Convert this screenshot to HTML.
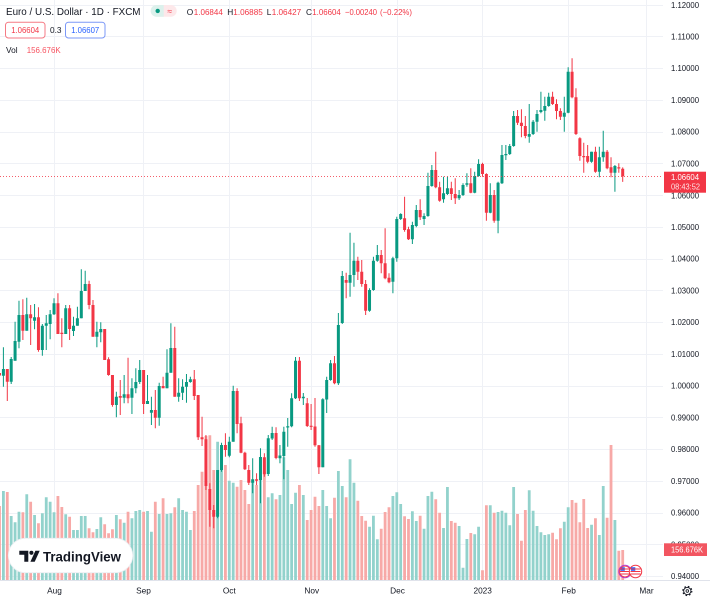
<!DOCTYPE html>
<html><head><meta charset="utf-8"><style>html,body{margin:0;padding:0;background:#fff;}svg{display:block;font-family:"Liberation Sans",sans-serif;}</style></head>
<body>
<svg width="710" height="600" viewBox="0 0 710 600" xmlns="http://www.w3.org/2000/svg">
<rect width="710" height="600" fill="#fff"/>
<g stroke="#eff1f6" stroke-width="1">
<path d="M0 5.5H663M0 36.5H663M0 68.5H663M0 100.5H663M0 132.5H663M0 163.5H663M0 195.5H663M0 227.5H663M0 259.5H663M0 290.5H663M0 322.5H663M0 354.5H663M0 386.5H663M0 417.5H663M0 449.5H663M0 481.5H663M0 513.5H663M0 544.5H663M0 576.5H663"/>
<path d="M54.5 0V580M143.5 0V580M229.5 0V580M311.5 0V580M397.5 0V580M482.5 0V580M568.5 0V580M646.5 0V580"/>
</g>
<g transform="translate(3.4 0) scale(3.895 1)" fill="none">
<path stroke="#92d2cc" stroke-width="2.8" vector-effect="non-scaling-stroke" d="M0 491V580.5M2 516V580.5M3 522.3V580.5M4 511.7V580.5M6 494.3V580.5M8 515V580.5M10 513.3V580.5M11 497.3V580.5M12 501.7V580.5M13 512.3V580.5M16 514.3V580.5M18 530V580.5M19 530V580.5M20 516V580.5M21 516V580.5M24 529V580.5M25 517.3V580.5M29 515V580.5M31 522.7V580.5M33 518.3V580.5M34 511V580.5M35 510V580.5M37 511V580.5M38 531.7V580.5M40 514V580.5M42 514V580.5M43 513.3V580.5M45 498.3V580.5M46 510V580.5M47 511.7V580.5M48 530V580.5M55 441.7V580.5M56 445V580.5M58 480.7V580.5M59 482.7V580.5M64 481.7V580.5M66 480V580.5M68 497.3V580.5M69 493.3V580.5M71 495V580.5M72 457.3V580.5M73 470V580.5M74 504V580.5M75 492.7V580.5M77 495V580.5M82 490V580.5M83 506V580.5M84 518.3V580.5M86 471V580.5M87 486V580.5M89 459.3V580.5M90 482.7V580.5M94 526.7V580.5M95 515.7V580.5M96 539.3V580.5M100 496V580.5M101 492.3V580.5M102 504V580.5M105 511.3V580.5M106 521V580.5M108 528.7V580.5M109 496V580.5M110 491.7V580.5M113 528V580.5M114 487V580.5M117 526V580.5M118 567.7V580.5M119 539V580.5M121 534.3V580.5M122 526.7V580.5M125 505.3V580.5M127 512V580.5M128 510.7V580.5M129 512.7V580.5M130 525.3V580.5M131 487V580.5M135 490.3V580.5M136 510.7V580.5M137 526V580.5M138 532.3V580.5M139 535V580.5M140 534.3V580.5M144 521.7V580.5M145 507.3V580.5M151 524.7V580.5M153 535V580.5M154 486V580.5M157 520V580.5"/>
<path stroke="#f7a9a7" stroke-width="2.8" vector-effect="non-scaling-stroke" d="M-1 506V580.5M1 492V580.5M5 512.3V580.5M7 501.7V580.5M9 523.3V580.5M14 496V580.5M15 507V580.5M17 516.7V580.5M22 528.3V580.5M23 532.3V580.5M26 524.3V580.5M27 533.3V580.5M28 529.3V580.5M30 519.3V580.5M32 511.7V580.5M36 511.7V580.5M39 501.7V580.5M41 498.3V580.5M44 507.3V580.5M49 511V580.5M50 485V580.5M51 471.7V580.5M52 436V580.5M53 435.3V580.5M54 470V580.5M57 465V580.5M60 486.7V580.5M61 480V580.5M62 490V580.5M63 504V580.5M65 485V580.5M67 471.7V580.5M70 499.3V580.5M76 485V580.5M78 520V580.5M79 510V580.5M80 496.7V580.5M81 506V580.5M85 497.7V580.5M88 497.3V580.5M91 500.7V580.5M92 516V580.5M93 520.7V580.5M97 528.7V580.5M98 512V580.5M99 507.3V580.5M103 516.3V580.5M104 519V580.5M107 515.7V580.5M111 499.3V580.5M112 512.7V580.5M115 521V580.5M116 522.7V580.5M120 533V580.5M123 570.3V580.5M124 505.3V580.5M126 512.7V580.5M132 514V580.5M133 540.7V580.5M134 510V580.5M141 532.7V580.5M142 539.3V580.5M143 528.3V580.5M146 500V580.5M147 502.7V580.5M148 522.3V580.5M149 499V580.5M150 528V580.5M152 518.3V580.5M155 517.7V580.5M156 445V580.5M158 550.7V580.5M159 550V580.5"/>
<path stroke="#089981" stroke-width="1" vector-effect="non-scaling-stroke" d="M0 347.3V386.7M2 357V384M3 321.7V360.7M4 300.7V348.3M6 297.7V330.7M8 304V329.3M10 324V355.7M11 315V350M12 310V339.3M13 298.3V315M16 305V334M18 316.7V336M19 306.7V325.7M20 269.3V318.3M21 270.7V291M24 321.7V347.3M25 322.3V342.3M29 391.7V417.3M31 375V403.3M33 378.3V414M34 368.3V393.3M35 360V384M37 375V404M38 396.7V425M40 382.7V425.7M42 349.3V388.3M43 323.3V372.7M45 378.3V401.7M46 379.3V400M47 374V402.7M48 376.7V382.7M55 470V518.3M56 442.7V471.7M58 436.7V457.3M59 385.7V441.7M64 458.3V493.3M66 448.3V503.3M68 435V476M69 426.7V440M71 445V463.3M72 426.7V479.3M73 418V446.7M74 393.3V427.3M75 357V399M77 393V405M82 398.3V467.3M83 376.7V413M84 360V380.7M86 313V385M87 271V324M89 232.7V296.7M90 242.7V286.7M94 288.3V311.7M95 256.7V290.7M96 245V261.7M100 256.7V293.3M101 216.7V261.7M102 213.3V220M105 221.7V244M106 205V227.3M108 213.3V225M109 172.7V216.7M110 165V186.7M113 176.7V202.7M114 176.7V195M117 190V200M118 183.3V196M119 173.3V186.7M121 171.7V193.3M122 159.3V176.7M125 183.3V213.3M127 181.7V233.3M128 145V184M129 145V160M130 144V155M131 111V146.7M135 104V142.7M136 120V135M137 110V131.7M138 91.7V113.3M139 96.7V120.7M140 92.7V106.7M144 96.7V131.7M145 67.3V113.3M151 151.7V162.7M153 146.7V177.3M154 130.7V161.7M157 165V191.7"/>
<path stroke="#089981" stroke-width="3" vector-effect="non-scaling-stroke" d="M0 369V375.7M2 359V381.7M3 341V360.7M4 315V341.7M6 314.3V330.7M8 317.3V320.7M10 325.7V350M11 323.3V325.7M12 314.3V324M13 303.3V314.3M16 308.3V334M18 325.7V331M19 318.3V325.7M20 291V318.3M21 284V291M24 331.7V336.7M25 329V332.3M29 396.7V405M31 394.3V397.7M33 388.3V397.7M34 382V388.3M35 370V382M37 401V404M38 410V412.7M40 386V417.7M42 372.7V388.3M43 348V372.7M45 392.7V396.7M46 386.7V392.7M47 382V386.7M48 379.3V382M55 470V516.7M56 445V470M58 441.7V455.7M59 391V441.7M64 479.3V482.7M66 457V480M68 438.3V474M69 433V438.5M71 455.5V458.3M72 431.7V456M73 426.3V427.5M74 398.3V426.3M75 360.7V398.3M77 396.7V398.3M82 399.3V467.3M83 380V399.5M84 363.3V380M86 325V383.3M87 276V323M89 275V282.7M90 260.7V275M94 290V310.7M95 260.7V290M96 255V260.7M100 258.3V281.7M101 219V258.3M102 214V219M105 225V239.3M106 210V226M108 216V219M109 186V216M110 170V186M113 193.3V199.3M114 188.3V194M117 195V198.3M118 185V195M119 183.3V184.7M121 176V192.7M122 164V176M125 195V212.7M127 182.7V220.7M128 155V183.3M129 154V155.2M130 146V154M131 116V146M135 134V136.7M136 121.7V134M137 114V121.7M138 110V112M139 106V110.7M140 96.7V106M144 112.7V116.7M145 71.7V112.7M151 151.7V161.7M153 157.3V171.7M154 151.7V157.3M157 166V172.7"/>
<path stroke="#f23645" stroke-width="1" vector-effect="non-scaling-stroke" d="M-1 364V387M1 369V401M5 299.3V340M7 305V345M9 307.3V351.7M14 293.3V334M15 318.3V347.3M17 305V340M22 280.7V309.3M23 300V336.7M26 329V360M27 357.3V375.7M28 375V406.7M30 380V415M32 357.7V403.3M36 370V414M39 390V428.3M41 376.7V388.3M44 326.7V396.7M49 370V400M50 395V440M51 416.7V446M52 435V490M53 483.3V526.7M54 505V528.3M57 433.3V456.7M60 388.3V433.3M61 416.7V453.3M62 451.7V470M63 465V485M65 473.3V485M67 453.3V476.7M70 427.3V459.3M76 357V401M78 398V427M79 404V430M80 398V446.7M81 445V474M85 356V384.3M88 272.7V298.3M91 256.7V280M92 260V286.7M93 280V315M97 250V273.3M98 228.3V279.3M99 273.3V283.3M103 196.7V231.7M104 226.7V240M107 199.3V220M111 151.7V188.3M112 181.7V201.7M115 181.7V200M116 178.3V204M120 168.3V193.3M123 162.7V176.7M124 173.3V220.7M126 190V222.7M132 110V125M133 109.3V137.3M134 116V138.3M141 91.7V105M142 99.3V119.3M143 108.3V120M146 58.3V98.3M147 88.3V135M148 137.3V160.7M149 142.7V172.7M150 145V163.3M152 146.7V172.7M155 150V169.3M156 157.3V177.3M158 163.3V172.7M159 167.4V181.9"/>
<path stroke="#f23645" stroke-width="3" vector-effect="non-scaling-stroke" d="M-1 373V375.5M1 369V381.7M5 315V330.7M7 314.3V318.3M9 317.3V350M14 303.3V334M15 332.7V334M17 308.3V329M22 284V305M23 305V336.7M26 329V360M27 359.3V375M28 375V405M30 396V397.7M32 394.3V398.3M36 370V404M39 410V417.7M41 386V388.3M44 348V396.7M49 379.3V396M50 395V437.3M51 437.3V439.3M52 439.3V486M53 489V510M54 510V516.7M57 445V450M60 391V424M61 423.3V452.7M62 452.7V469.3M63 470V482.7M65 479.3V480.7M67 457.3V474.3M70 433V458M76 360.7V398.3M78 403.3V426M79 425.7V426.9M80 426.5V445.3M81 445.3V467.3M85 363.3V383.3M88 280V282.7M91 260.7V271.7M92 271.7V284M93 284V310.7M97 255V263.3M98 263.3V278.3M99 277.7V282.3M103 218.3V230M104 229.3V239.3M107 210V217.3M111 170V187.3M112 187.3V200.7M115 188.3V194M116 194V198.3M120 183.3V192.7M123 164V174M124 174V212.7M126 195V220.7M132 116V122.7M133 122.7V126M134 126V136M141 96.7V104M142 104V111M143 111V116.7M146 71.7V97.3M147 97.3V134M148 138.3V156M149 156V157.3M150 156V161.7M152 151.7V171.7M155 151.7V168.3M156 167.3V172.7M158 167.3V168.5M159 168.7V176.3"/>
</g>
<path d="M0 176.5H663" stroke="#f23645" stroke-width="1" stroke-dasharray="1 2" opacity="0.8"/>
<path d="M0 580.5H710" stroke="#e0e3eb" stroke-width="1"/>
<g font-size="8" fill="#131722">
<text x="671" y="8" textLength="28" lengthAdjust="spacingAndGlyphs">1.12000</text>
<text x="671" y="39.5" textLength="28" lengthAdjust="spacingAndGlyphs">1.11000</text>
<text x="671" y="71.2" textLength="28" lengthAdjust="spacingAndGlyphs">1.10000</text>
<text x="671" y="103" textLength="28" lengthAdjust="spacingAndGlyphs">1.09000</text>
<text x="671" y="134.7" textLength="28" lengthAdjust="spacingAndGlyphs">1.08000</text>
<text x="671" y="166.5" textLength="28" lengthAdjust="spacingAndGlyphs">1.07000</text>
<text x="671" y="198.7" textLength="28" lengthAdjust="spacingAndGlyphs">1.06000</text>
<text x="671" y="230" textLength="28" lengthAdjust="spacingAndGlyphs">1.05000</text>
<text x="671" y="261.7" textLength="28" lengthAdjust="spacingAndGlyphs">1.04000</text>
<text x="671" y="293.5" textLength="28" lengthAdjust="spacingAndGlyphs">1.03000</text>
<text x="671" y="325.2" textLength="28" lengthAdjust="spacingAndGlyphs">1.02000</text>
<text x="671" y="357" textLength="28" lengthAdjust="spacingAndGlyphs">1.01000</text>
<text x="671" y="388.7" textLength="28" lengthAdjust="spacingAndGlyphs">1.00000</text>
<text x="671" y="420.5" textLength="28" lengthAdjust="spacingAndGlyphs">0.99000</text>
<text x="671" y="452.2" textLength="28" lengthAdjust="spacingAndGlyphs">0.98000</text>
<text x="671" y="484" textLength="28" lengthAdjust="spacingAndGlyphs">0.97000</text>
<text x="671" y="515.7" textLength="28" lengthAdjust="spacingAndGlyphs">0.96000</text>
<text x="671" y="547.5" textLength="28" lengthAdjust="spacingAndGlyphs">0.95000</text>
<text x="671" y="579.2" textLength="28" lengthAdjust="spacingAndGlyphs">0.94000</text>
</g>
<rect x="664" y="171.7" width="42" height="21" fill="#f23645"/>
<text x="671" y="179.8" font-size="8" fill="#fff" textLength="28" lengthAdjust="spacingAndGlyphs">1.06604</text>
<text x="671" y="189.6" font-size="8" fill="#fde3e5" textLength="29" lengthAdjust="spacingAndGlyphs">08:43:52</text>
<rect x="664" y="543.3" width="43" height="12.7" fill="#f25560"/>
<text x="671" y="552.6" font-size="8" fill="#fff" textLength="32" lengthAdjust="spacingAndGlyphs">156.676K</text>
<g font-size="8.3" fill="#131722" text-anchor="middle">
<text x="54.5" y="593.5">Aug</text>
<text x="143.5" y="593.5">Sep</text>
<text x="229.3" y="593.5">Oct</text>
<text x="311.8" y="593.5">Nov</text>
<text x="397.5" y="593.5">Dec</text>
<text x="482.7" y="593.5">2023</text>
<text x="568.7" y="593.5">Feb</text>
<text x="646.5" y="593.5">Mar</text>
</g>
<g fill="none" stroke="#131722">
<circle cx="687.3" cy="591" r="3.6" stroke-width="0.9"/>
<circle cx="687.3" cy="591" r="4.5" stroke-width="1.2" stroke-dasharray="1.6 2"/>
<circle cx="687.3" cy="591" r="1.3" stroke-width="0.8"/>
</g>
<g>
<circle cx="625" cy="571.5" r="6.2" fill="#fff" stroke="#b03ad6" stroke-width="1"/>
<rect x="620.5" y="567.2" width="4.3" height="3.6" fill="#2962ff"/>
<path d="M620 569h10M620 571.5h10M620 574h10" stroke="#f23645" stroke-width="1"/>
<circle cx="625" cy="571.5" r="5.4" fill="none" stroke="#f23645" stroke-width="0.8"/>
<circle cx="635.5" cy="571.5" r="6.2" fill="#fff" stroke="#f23645" stroke-width="1"/>
<rect x="631" y="567.2" width="4.3" height="3.6" fill="#2962ff"/>
<path d="M630.5 569h10M630.5 571.5h10M630.5 574h10" stroke="#f23645" stroke-width="1"/>
</g>
<rect x="8.3" y="538.3" width="124.4" height="34.4" rx="17.2" fill="#fff" stroke="#eceef2" stroke-width="0.8"/>
<path d="M19.3 550.7H28.3V561.7H24.3V554.7H19.3Z" fill="#131722"/>
<circle cx="31.4" cy="552.8" r="2.05" fill="#131722"/>
<path d="M35.4 550.7H39.7L34.7 561.7H30.4Z" fill="#131722"/>
<text x="43" y="561.7" font-size="13.5" font-weight="700" fill="#131722" textLength="78" lengthAdjust="spacingAndGlyphs">TradingView</text>
<text x="6" y="15" font-size="10.4" fill="#131722" textLength="134.5" lengthAdjust="spacingAndGlyphs">Euro / U.S. Dollar · 1D · FXCM</text>
<rect x="150.7" y="5" width="26" height="11.7" rx="5.85" fill="#fde8ea"/>
<path d="M156.55 5H163.7V16.7H156.55A5.85 5.85 0 0 1 156.55 5Z" fill="#dcf1ec"/>
<circle cx="157.7" cy="10.9" r="2.2" fill="#089981"/>
<text x="169.6" y="13.8" font-size="8.5" fill="#f23645" text-anchor="middle">≈</text>
<g font-size="8.3">
<text x="186.7" y="15" fill="#131722">O</text>
<text x="193.8" y="15" fill="#f23645" textLength="29" lengthAdjust="spacingAndGlyphs">1.06844</text>
<text x="227.3" y="15" fill="#131722">H</text>
<text x="233.3" y="15" fill="#f23645" textLength="29.5" lengthAdjust="spacingAndGlyphs">1.06885</text>
<text x="266.7" y="15" fill="#131722">L</text>
<text x="271.7" y="15" fill="#f23645" textLength="29.5" lengthAdjust="spacingAndGlyphs">1.06427</text>
<text x="306" y="15" fill="#131722">C</text>
<text x="312.3" y="15" fill="#f23645" textLength="28.5" lengthAdjust="spacingAndGlyphs">1.06604</text>
<text x="345" y="15" fill="#f23645" textLength="32" lengthAdjust="spacingAndGlyphs">−0.00240</text>
<text x="380" y="15" fill="#f23645" textLength="32" lengthAdjust="spacingAndGlyphs">(−0.22%)</text>
</g>
<rect x="5.5" y="22.2" width="39.5" height="15.8" rx="3" fill="#fff" stroke="#f57a84" stroke-width="1"/>
<text x="25.2" y="33" font-size="8.3" fill="#f23645" text-anchor="middle" textLength="28" lengthAdjust="spacingAndGlyphs">1.06604</text>
<text x="50" y="33" font-size="8.3" fill="#131722">0.3</text>
<rect x="65.5" y="22.2" width="39.5" height="15.8" rx="3" fill="#fff" stroke="#7b98f7" stroke-width="1"/>
<text x="85.2" y="33" font-size="8.3" fill="#2962ff" text-anchor="middle" textLength="28" lengthAdjust="spacingAndGlyphs">1.06607</text>
<text x="6" y="53" font-size="8.3" fill="#131722">Vol</text>
<text x="26.7" y="53" font-size="8.3" fill="#f7525f" textLength="34" lengthAdjust="spacingAndGlyphs">156.676K</text>
</svg>
</body></html>
